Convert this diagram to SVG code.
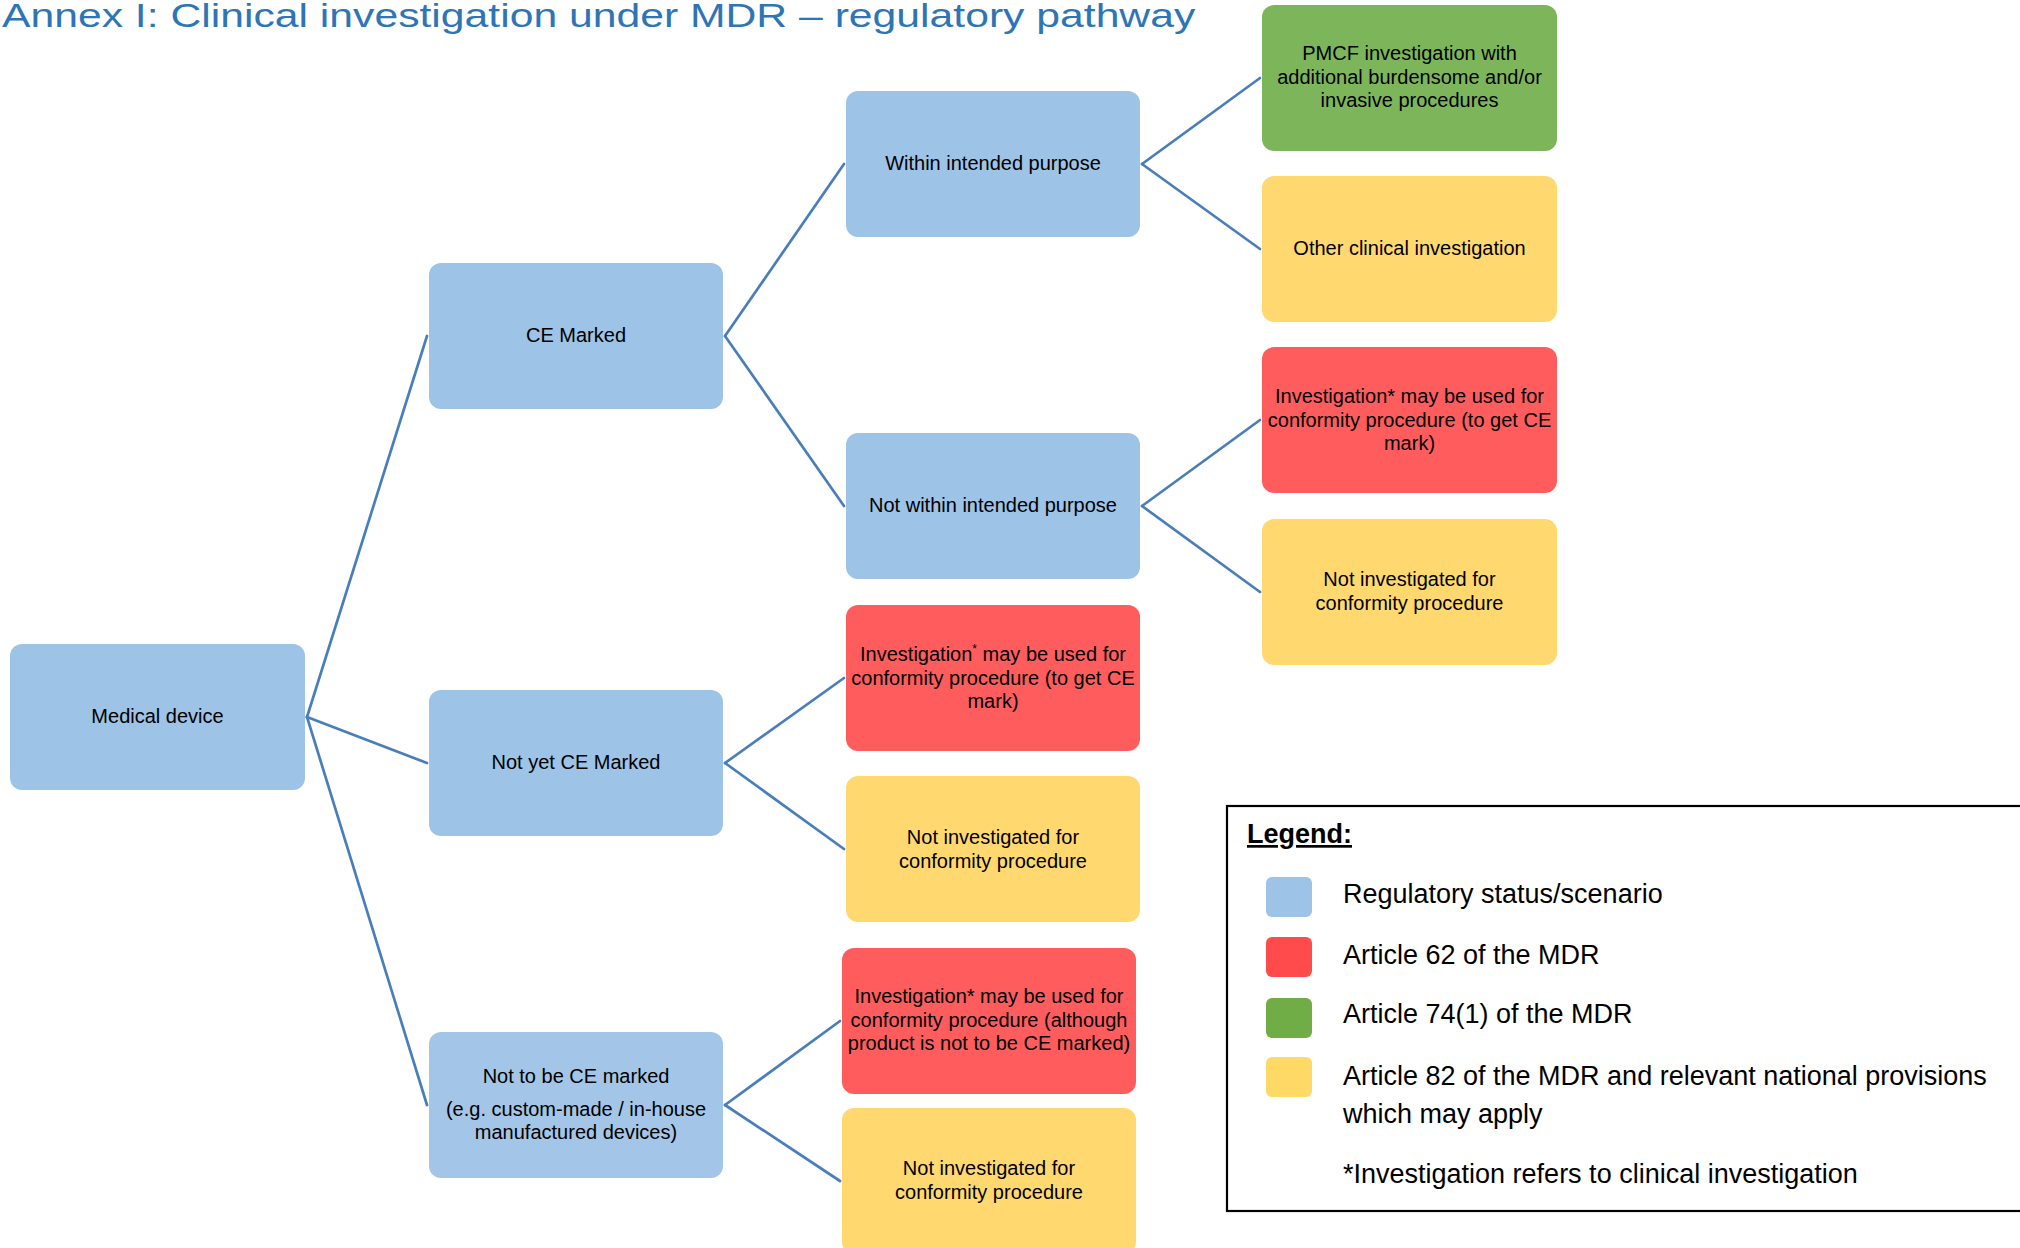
<svg xmlns="http://www.w3.org/2000/svg" width="2020" height="1248" viewBox="0 0 2020 1248">
<style>
  .box { stroke: none; }
  .blue { fill: #9DC3E6; }
  .red { fill: #FF5D5D; }
  .green { fill: #7DB65A; }
  .yellow { fill: #FFD970; }
  .t { font-family: "Liberation Sans", Arial, sans-serif; font-size: 20px; fill: #000; text-anchor: middle; }
  .conn line { stroke: #4A7EBB; stroke-width: 2.7; stroke-linecap: round; }
  .lg { font-family: "Liberation Sans", Arial, sans-serif; font-size: 27px; fill: #000; }
  .title { font-family: "Liberation Sans", Arial, sans-serif; font-size: 42.7px; fill: #2E75B6; }
</style>
<rect width="2020" height="1248" fill="#fff"/>

<g id="title">
  <text class="title" x="2" y="0" transform="translate(0,27) scale(1,0.76)">Annex I: Clinical investigation under MDR – regulatory pathway</text>
</g>

<g id="connectors" class="conn">
  <line x1="307" y1="717" x2="427" y2="336"/>
  <line x1="307" y1="717" x2="427" y2="763"/>
  <line x1="307" y1="717" x2="427" y2="1105"/>
  <line x1="725" y1="336" x2="844" y2="164"/>
  <line x1="725" y1="336" x2="844" y2="506"/>
  <line x1="1142" y1="164" x2="1260" y2="78"/>
  <line x1="1142" y1="164" x2="1260" y2="249"/>
  <line x1="1142" y1="506" x2="1260" y2="420"/>
  <line x1="1142" y1="506" x2="1260" y2="592"/>
  <line x1="725" y1="763" x2="844" y2="678"/>
  <line x1="725" y1="763" x2="844" y2="849"/>
  <line x1="725" y1="1105" x2="840" y2="1021"/>
  <line x1="725" y1="1105" x2="840" y2="1181"/>
</g>

<g id="n-medical-device">
  <rect class="box blue" x="10" y="644" width="295" height="146" rx="12"/>
  <text class="t" x="157.5" y="723">Medical device</text>
</g>
<g id="n-ce-marked">
  <rect class="box blue" x="429" y="263" width="294" height="146" rx="12"/>
  <text class="t" x="576" y="342">CE Marked</text>
</g>
<g id="n-not-yet-ce">
  <rect class="box blue" x="429" y="690" width="294" height="146" rx="12"/>
  <text class="t" x="576" y="769">Not yet CE Marked</text>
</g>
<g id="n-not-to-be-ce">
  <rect class="box" fill="#A3C6E8" x="429" y="1032" width="294" height="146" rx="12"/>
  <text class="t" x="576" y="1083">Not to be CE marked</text>
  <text class="t" x="576" y="1116">(e.g. custom-made / in-house</text>
  <text class="t" x="576" y="1139">manufactured devices)</text>
</g>
<g id="n-within">
  <rect class="box blue" x="846" y="91" width="294" height="146" rx="12"/>
  <text class="t" x="993" y="170">Within intended purpose</text>
</g>
<g id="n-not-within">
  <rect class="box blue" x="846" y="433" width="294" height="146" rx="12"/>
  <text class="t" x="993" y="512">Not within intended purpose</text>
</g>
<g id="n-inv-notyet">
  <rect class="box red" x="846" y="605" width="294" height="146" rx="12"/>
  <text class="t" x="993" y="661">Investigation<tspan font-size="12" dy="-8">*</tspan><tspan dy="8"> may be used for</tspan></text>
  <text class="t" x="993" y="684.5">conformity procedure (to get CE</text>
  <text class="t" x="993" y="708">mark)</text>
</g>
<g id="n-notinv-notyet">
  <rect class="box yellow" x="846" y="776" width="294" height="146" rx="12"/>
  <text class="t" x="993" y="844">Not investigated for</text>
  <text class="t" x="993" y="867.5">conformity procedure</text>
</g>
<g id="n-inv-nottobe">
  <rect class="box red" x="842" y="948" width="294" height="146" rx="12"/>
  <text class="t" x="989" y="1003">Investigation* may be used for</text>
  <text class="t" x="989" y="1026.5">conformity procedure (although</text>
  <text class="t" x="989" y="1050">product is not to be CE marked)</text>
</g>
<g id="n-notinv-nottobe">
  <rect class="box yellow" x="842" y="1108" width="294" height="146" rx="12"/>
  <text class="t" x="989" y="1175">Not investigated for</text>
  <text class="t" x="989" y="1198.5">conformity procedure</text>
</g>
<g id="n-pmcf">
  <rect class="box green" x="1262" y="5" width="295" height="146" rx="12"/>
  <text class="t" x="1409.5" y="60">PMCF investigation with</text>
  <text class="t" x="1409.5" y="83.5">additional burdensome and/or</text>
  <text class="t" x="1409.5" y="107">invasive procedures</text>
</g>
<g id="n-other">
  <rect class="box yellow" x="1262" y="176" width="295" height="146" rx="12"/>
  <text class="t" x="1409.5" y="255">Other clinical investigation</text>
</g>
<g id="n-inv-notwithin">
  <rect class="box red" x="1262" y="347" width="295" height="146" rx="12"/>
  <text class="t" x="1409.5" y="403">Investigation* may be used for</text>
  <text class="t" x="1409.5" y="426.5">conformity procedure (to get CE</text>
  <text class="t" x="1409.5" y="450">mark)</text>
</g>
<g id="n-notinv-notwithin">
  <rect class="box yellow" x="1262" y="519" width="295" height="146" rx="12"/>
  <text class="t" x="1409.5" y="586">Not investigated for</text>
  <text class="t" x="1409.5" y="609.5">conformity procedure</text>
</g>

<g id="legend">
  <rect x="1227" y="806" width="800" height="405" fill="#fff" stroke="#000" stroke-width="2.2"/>
  <text class="lg" x="1247" y="843" font-weight="bold" font-size="25" text-decoration="underline">Legend:</text>
  <rect x="1266" y="877" width="46" height="40" rx="6" fill="#9DC3E6"/>
  <rect x="1266" y="937" width="46" height="40" rx="6" fill="#FF4B4B"/>
  <rect x="1266" y="998" width="46" height="40" rx="6" fill="#70AD47"/>
  <rect x="1266" y="1057" width="46" height="40" rx="6" fill="#FFD966"/>
  <text class="lg" x="1343" y="903">Regulatory status/scenario</text>
  <text class="lg" x="1343" y="964">Article 62 of the MDR</text>
  <text class="lg" x="1343" y="1023">Article 74(1) of the MDR</text>
  <text class="lg" x="1343" y="1085">Article 82 of the MDR and relevant national provisions</text>
  <text class="lg" x="1343" y="1123">which may apply</text>
  <text class="lg" x="1343" y="1183">*Investigation refers to clinical investigation</text>
</g>
</svg>
